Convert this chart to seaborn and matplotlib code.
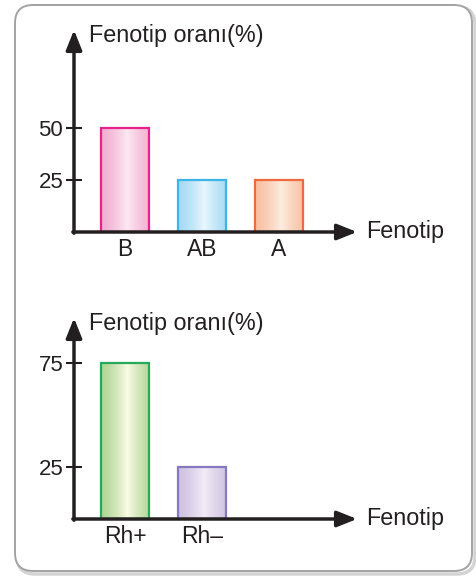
import matplotlib
matplotlib.use("Agg")
import matplotlib.pyplot as plt
import seaborn as sns
import numpy as np
import pandas as pd
from matplotlib.patches import FancyBboxPatch
from matplotlib.colors import to_rgb

# ABO blood group phenotypes
blood_groups = ["B", "AB", "A"]
blood_ratios = [50, 25, 25]
blood_ticks = [25, 50]

# Rh factor phenotypes
rh_groups = ["Rh+", "Rh\u2013"]
rh_ratios = [75, 25]
rh_ticks = [25, 75]

y_title = "Fenotip oranı(%)"
x_title = "Fenotip"

# outline colour, darker fill shade at the bar sides, light shade in the middle
blood_edges = ["#e6238c", "#3cb6e8", "#ef6b3f"]
blood_shades = ["#f2afd0", "#a4daf4", "#f8c0a2"]
blood_lights = ["#fce8f2", "#e8f7fd", "#fdede0"]
rh_edges = ["#25a95a", "#8577c2"]
rh_shades = ["#b0d596", "#cfc2e2"]
rh_lights = ["#fbfbe4", "#f2ecf6"]

W, H = 476, 577
INK = "#231f20"

sns.set_theme(style="white")
plt.rcParams["font.family"] = ["Liberation Sans", "DejaVu Sans"]

fig = plt.figure(figsize=(W / 100, H / 100), dpi=100)
fig.patch.set_facecolor("white")


def fx(px):
    return px / W


def fy(py):
    return 1 - py / H


# rounded card behind both charts, in pixel units
bg = fig.add_axes([0, 0, 1, 1], zorder=-5)
bg.set_xlim(0, W)
bg.set_ylim(H, 0)
bg.axis("off")
bg.add_patch(FancyBboxPatch((17, 7), 458, 567, boxstyle="round,pad=0,rounding_size=18",
                            facecolor="none", edgecolor="#d4d4d4", lw=2.5))
bg.add_patch(FancyBboxPatch((15, 5), 457, 566, boxstyle="round,pad=0,rounding_size=18",
                            facecolor="white", edgecolor="#a3a3a3", lw=1.4))

LEFT, RIGHT = 74, 357
FIRST_BAR, STEP = 125, 77
PX_PER_UNIT = 52 / 25


def panel(top_px, base_px, cats, vals, ticks, edges, shades, lights):
    ax = fig.add_axes([fx(LEFT), fy(base_px), (RIGHT - LEFT) / W, (base_px - top_px) / H])
    ax.patch.set_alpha(0)
    df = pd.DataFrame({"Fenotip": cats, "oran": vals})
    sns.barplot(data=df, x="Fenotip", y="oran", hue="Fenotip", palette=edges,
                width=0.623, saturation=1, legend=False, ax=ax)

    bars = sorted(ax.patches, key=lambda p: p.get_x())
    t = np.linspace(0, 1, 240)
    k = np.clip(1 - np.abs(t - 0.55) / 0.55, 0, 1) ** 1.4
    for p, e, s, l in zip(bars, edges, shades, lights):
        x0, w, h = p.get_x(), p.get_width(), p.get_height()
        grad = np.outer(1 - k, to_rgb(s)) + np.outer(k, to_rgb(l))
        img = ax.imshow(grad[None, :, :], extent=(x0, x0 + w, 0, h), aspect="auto",
                        interpolation="bilinear", zorder=1)
        img.set_clip_path(p)
        p.set_facecolor("none")
        p.set_edgecolor(e)
        p.set_linewidth(1.6)
        p.set_zorder(2)

    ax.set_xlim(-(FIRST_BAR - LEFT) / STEP, (RIGHT - FIRST_BAR) / STEP)
    ax.set_ylim(0, (base_px - top_px) / PX_PER_UNIT)
    ax.set_yticks(ticks)
    ax.set_yticklabels([str(v) for v in ticks])
    ax.tick_params(axis="y", left=True, direction="inout", length=11.5, width=1.5,
                   color=INK, pad=2, labelsize=16, labelcolor=INK)
    ax.tick_params(axis="x", bottom=False, length=0, pad=4, labelsize=16.5, labelcolor=INK)
    ax.set_xlabel("")
    ax.set_ylabel("")
    for sp in ax.spines.values():
        sp.set_visible(False)

    arrow = dict(arrowstyle="-|>,head_length=0.6,head_width=0.24", mutation_scale=20,
                 lw=2.5, color=INK, shrinkA=0, shrinkB=0)
    ax.annotate("", xy=(0, 1), xytext=(0, -0.006), xycoords="axes fraction",
                arrowprops=arrow, annotation_clip=False)
    ax.annotate("", xy=(1, 0), xytext=(-0.004, 0), xycoords="axes fraction",
                arrowprops=arrow, annotation_clip=False)

    fig.text(fx(89), fy(top_px + 12), y_title, fontsize=16.8, color=INK,
             ha="left", va="baseline")
    fig.text(fx(366), fy(base_px + 6), x_title, fontsize=16.8, color=INK,
             ha="left", va="baseline")
    return ax


panel(30, 232, blood_groups, blood_ratios, blood_ticks, blood_edges, blood_shades, blood_lights)
panel(318, 519, rh_groups, rh_ratios, rh_ticks, rh_edges, rh_shades, rh_lights)

fig.savefig("out.png", dpi=100, facecolor=fig.get_facecolor())
